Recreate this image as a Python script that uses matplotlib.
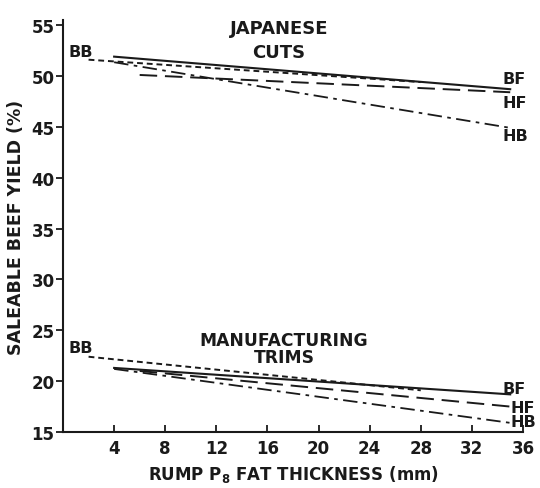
import matplotlib
matplotlib.use("Agg")
import matplotlib.pyplot as plt

plt.rcParams['font.family'] = ['DejaVu Sans']
plt.rcParams['font.weight'] = 'bold'
plt.rcParams['mathtext.fontset'] = 'custom'
plt.rcParams['mathtext.rm'] = 'DejaVu Sans:bold'
plt.rcParams['mathtext.it'] = 'DejaVu Sans:bold'
plt.rcParams['mathtext.bf'] = 'DejaVu Sans:bold'

# Japanese cuts (fat thickness mm, yield %)
jp_bb_x = [2, 28]; jp_bb_y = [51.6, 49.4]
jp_bf_x = [4, 35]; jp_bf_y = [51.9, 48.7]
jp_hf_x = [6, 35]; jp_hf_y = [50.1, 48.4]
jp_hb_x = [4, 35]; jp_hb_y = [51.35, 44.9]

# Manufacturing trims
mt_bb_x = [2, 28]; mt_bb_y = [22.4, 19.1]
mt_bf_x = [4, 35]; mt_bf_y = [21.3, 18.7]
mt_hf_x = [6, 35]; mt_hf_y = [21.0, 17.5]
mt_hb_x = [4, 35]; mt_hb_y = [21.2, 15.9]

x_ticks = [4, 8, 12, 16, 20, 24, 28, 32, 36]
y_ticks = [15, 20, 25, 30, 35, 40, 45, 50, 55]

styles = {
    'BB': dict(ls=(0, (3, 2)), lw=1.4),
    'BF': dict(ls='-', lw=1.5),
    'HF': dict(ls=(0, (9, 4)), lw=1.4),
    'HB': dict(ls=(0, (8, 3, 2, 3)), lw=1.3),
}

fig = plt.figure(figsize=(5.40, 4.89), dpi=100)
ax = fig.add_axes([0.1167, 0.1145, 0.8518, 0.8425])
c = '#1a1a1a'

ax.plot(jp_bb_x, jp_bb_y, color=c, **styles['BB'])
ax.plot(jp_bf_x, jp_bf_y, color=c, **styles['BF'])
ax.plot(jp_hf_x, jp_hf_y, color=c, **styles['HF'])
ax.plot(jp_hb_x, jp_hb_y, color=c, **styles['HB'])

ax.plot(mt_bb_x, mt_bb_y, color=c, **styles['BB'])
ax.plot(mt_bf_x, mt_bf_y, color=c, **styles['BF'])
ax.plot(mt_hf_x, mt_hf_y, color=c, **styles['HF'])
ax.plot(mt_hb_x, mt_hb_y, color=c, **styles['HB'])

ax.set_xlim(0, 36)
ax.set_ylim(15, 55.5)
ax.set_xticks(x_ticks)
ax.set_yticks(y_ticks)
ax.spines['top'].set_visible(False)
ax.spines['right'].set_visible(False)
for s in ('left', 'bottom'):
    ax.spines[s].set_linewidth(1.5)
    ax.spines[s].set_color(c)
ax.tick_params(axis='y', direction='out', length=5, width=1.3, pad=1, labelsize=12, colors=c)
ax.tick_params(axis='x', direction='in', length=5, width=1.3, pad=5, labelsize=12, colors=c)

ax.set_ylabel('SALEABLE BEEF YIELD (%)', fontsize=12.5, fontweight='bold', labelpad=5, color=c)
ax.set_xlabel(r'RUMP P$_{8}$ FAT THICKNESS (mm)', fontsize=12, fontweight='bold', labelpad=4, color=c)

tkw = dict(fontweight='bold', color=c, clip_on=False)
ax.text(16.9, 54.7, 'JAPANESE', ha='center', va='center', fontsize=13, **tkw)
ax.text(16.9, 52.4, 'CUTS', ha='center', va='center', fontsize=13, **tkw)
ax.text(17.3, 24.05, 'MANUFACTURING', ha='center', va='center', fontsize=12.3, **tkw)
ax.text(17.3, 22.42, 'TRIMS', ha='center', va='center', fontsize=12.3, **tkw)

lkw = dict(fontsize=11.5, **tkw)
ax.text(0.4, 52.4, 'BB', ha='left', va='center', **lkw)
ax.text(0.4, 23.3, 'BB', ha='left', va='center', **lkw)

ax.text(34.4, 49.8, 'BF', ha='left', va='center', **lkw)
ax.text(34.4, 47.4, 'HF', ha='left', va='center', **lkw)
ax.text(34.4, 44.1, 'HB', ha='left', va='center', **lkw)

ax.text(34.4, 19.3, 'BF', ha='left', va='center', **lkw)
ax.text(35.0, 17.45, 'HF', ha='left', va='center', **lkw)
ax.text(35.0, 16.0, 'HB', ha='left', va='center', **lkw)

fig.savefig('out.png', dpi=100)
